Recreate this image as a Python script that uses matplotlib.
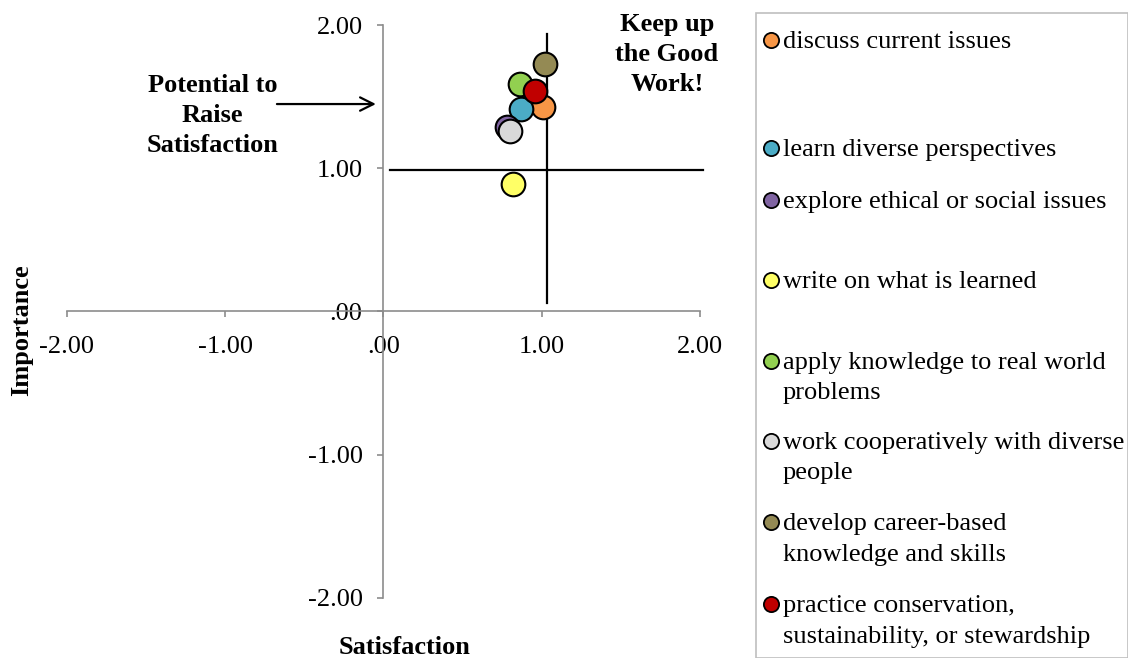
import matplotlib
matplotlib.use("Agg")
import matplotlib.pyplot as plt
from matplotlib.ticker import FuncFormatter
from matplotlib.patches import Rectangle

plt.rcParams['font.family'] = ['Liberation Serif', 'DejaVu Serif']
plt.rcParams['font.size'] = 19

# datos
etiquetas = ["discuss current issues",
             "learn diverse perspectives",
             "explore ethical or social issues",
             "write on what is learned",
             "apply knowledge to real world\nproblems",
             "work cooperatively with diverse\npeople",
             "develop career-based\nknowledge and skills",
             "practice conservation,\nsustainability, or stewardship"]
satisfaccion = [1.01, 0.87, 0.78, 0.82, 0.86, 0.80, 1.02, 0.96]
importancia = [1.43, 1.41, 1.29, 0.89, 1.59, 1.26, 1.73, 1.54]
colores = ["#F79646", "#4BACC6", "#8064A2", "#FFFF66",
           "#92D050", "#D9D9D9", "#948A54", "#C00000"]

# lineas de cuadrante
media_sat = 1.03
media_imp = 0.99

fig = plt.figure(figsize=(11.29, 6.6), dpi=100)
ax = fig.add_axes([0.0591, 0.0944, 0.5610, 0.8677])

for i in range(len(etiquetas)):
    ax.scatter(satisfaccion[i], importancia[i], s=290, color=colores[i],
               edgecolor="black", linewidth=1.5, zorder=5 + i, clip_on=False)

ax.plot([media_sat, media_sat], [0.06, 1.94], color="black", lw=1.6, zorder=3)
ax.plot([0.04, 2.02], [media_imp, media_imp], color="black", lw=1.6, zorder=3,
        clip_on=False)

ax.set_xlim(-2, 2)
ax.set_ylim(-2, 2)
ax.set_xticks([-2, -1, 0, 1, 2])
ax.set_yticks([-2, -1, 0, 1, 2])
fmt = FuncFormatter(lambda v, p: ".00" if v == 0 else f"{v:.2f}")
ax.xaxis.set_major_formatter(fmt)
ax.yaxis.set_major_formatter(fmt)

for s in ["top", "right"]:
    ax.spines[s].set_visible(False)
for s in ["left", "bottom"]:
    ax.spines[s].set_position(("data", 0))
    ax.spines[s].set_color("#8c8c8c")
    ax.spines[s].set_linewidth(1.2)
ax.tick_params(color="#8c8c8c", length=4, width=1.2, pad=14)
ax.tick_params(axis="y", pad=11)
ax.patch.set_visible(False)

# textos
ax.text(1.79, 1.795, "Keep up\nthe Good\nWork!", ha="center", va="center",
        fontweight="bold", linespacing=1.4)
ax.text(-1.08, 1.37, "Potential to\nRaise\nSatisfaction", ha="center",
        va="center", fontweight="bold", linespacing=1.4)
ax.annotate("", xy=(-0.03, 1.448), xytext=(-0.69, 1.448),
            arrowprops=dict(arrowstyle="->", lw=1.6, color="black",
                            mutation_scale=24))

fig.text(22 / 1129, 1 - 330 / 660, "Importance", rotation=90, ha="center",
         va="center", fontweight="bold")
fig.text(405 / 1129, 1 - 648 / 660, "Satisfaction", ha="center",
         va="center", fontweight="bold")

# leyenda
lax = fig.add_axes([755 / 1129, 2 / 660, 373 / 1129, 646 / 660])
lax.set_xlim(0, 373)
lax.set_ylim(646, 0)
lax.axis("off")
lax.add_patch(Rectangle((0.5, 0.5), 372, 645, fill=False,
                        edgecolor="#bfbfbf", lw=1.2))
pos_y = [28, 136, 188, 268, 349, 429, 510, 592]
for i in range(len(etiquetas)):
    lax.scatter(16, pos_y[i], s=120, color=colores[i], edgecolor="black",
                linewidth=1.3, clip_on=False)
    lax.text(28, pos_y[i] - 9, etiquetas[i], ha="left", va="top",
             linespacing=1.5)

fig.savefig("out.png", dpi=100)
